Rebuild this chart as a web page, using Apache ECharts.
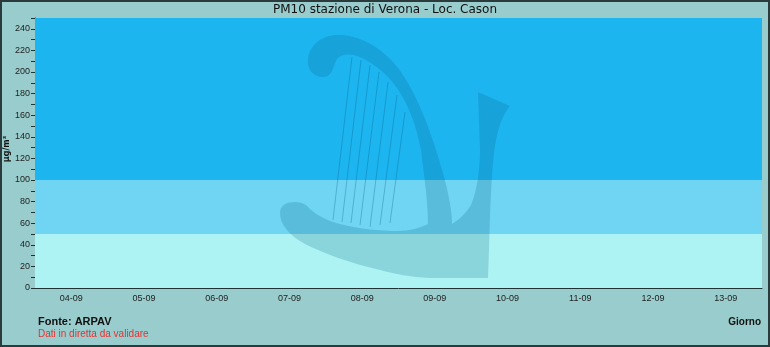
<!DOCTYPE html>
<html>
<head>
<meta charset="utf-8">
<script src="https://cdn.jsdelivr.net/npm/echarts@6/dist/echarts.min.js"></script>
<style>
html,body{margin:0;padding:0;background:#99cccc;}
#c{width:770px;height:347px;}
</style>
</head>
<body>
<div id="c"></div>
<script>
const categories = ['04-09','05-09','06-09','07-09','08-09','09-09','10-09','11-09','12-09','13-09'];
const pm10Values = [null,null,null,null,null,null,null,null,null,null];
const bandLimits = [0, 50, 100, 250];
const bandColors = ['#adf3f3', '#70d5f2', '#1db5f0'];
const yTicks = [0,20,40,60,80,100,120,140,160,180,200,220,240];

const chart = echarts.init(document.getElementById('c'));
const FONT = 'Liberation Sans';

const bands = [];
for (let i = 0; i < bandColors.length; i++) {
  bands.push([{yAxis: bandLimits[i], itemStyle: {color: bandColors[i], opacity: 1}}, {yAxis: bandLimits[i+1]}]);
}

// decorative watermark (logo), pixel-positioned
const harpFill = 'rgba(0,90,130,0.2)';
const harpString = 'rgba(0,90,130,0.3)';
const harpStrings = [
  [352,57,333,220],[361,60,342,222],[370,65,351,223],[379,72,360,225],
  [388,82,370,227],[397,95,380,225],[405,112,390,223]
];
const harpPaths = [
  'M323,77 C313,77 307,69 308,60 C309,45 322,35 338,35 C358,35 380,45 398,68 C415,90 430,127 443,173 C449,195 452,212 452,224 L428,224 C428,205 426,190 421,150 C416,125 410,110 402,96 C392,78 377,65 360,57 C350,53 342,54 338,58 C333,63 334,77 323,77 Z',
  'M280,213 C280,205 287,202 295,202 C302,202 307,205 310,209 C318,216 328,221 340,224 C360,229 380,231 397,231 C410,231 420,228 428,224 L452,224 C460,219 467,212 471,205 C477,190 480,170 480,150 L478,92 L510,106 C502,115 497,130 494,153 C491,180 490,215 489,250 L488,278 L430,278 C410,277 395,274 380,270 C350,263 325,254 305,244 C290,236 280,225 280,213 Z'
];

function renderHarp() {
  const children = harpPaths.map(d => ({type:'path', shape:{pathData:d}, style:{fill:harpFill}}));
  harpStrings.forEach(s => children.push({type:'line', shape:{x1:s[0],y1:s[1],x2:s[2],y2:s[3]}, style:{stroke:harpString, lineWidth:1}}));
  return {type:'group', children:children};
}

chart.setOption({
  backgroundColor:'#99cccc',
  animation:false,
  grid:{left:35, right:8, top:18, bottom:59, containLabel:false, outerBoundsMode:'none'},
  xAxis:{type:'category', data:categories, boundaryGap:true,
    axisLine:{lineStyle:{color:'#1e3333', width:1}},
    axisTick:{inside:true, length:4, lineStyle:{color:'#1e3333'}},
    axisLabel:{fontFamily:FONT, fontSize:9, color:'#222', margin:6},
    splitLine:{show:false}},
  yAxis:{type:'value', min:0, max:250, interval:10,
    axisLine:{show:true, lineStyle:{color:'#1e3333', width:1}},
    axisTick:{show:true, length:4, lineStyle:{color:'#1e3333'}},
    axisLabel:{fontFamily:FONT, fontSize:9, color:'#222', margin:5,
      formatter: v => yTicks.indexOf(v) >= 0 ? String(v) : ''},
    splitLine:{show:false}},
  series:[
    {type:'line', data:pm10Values, symbol:'none', z:1, silent:true,
      markArea:{silent:true, data:bands}},
    {type:'custom', data:[0], z:3, silent:true, renderItem: renderHarp}
  ],
  graphic:[
    {type:'text', x:385, y:10, style:{text:'PM10 stazione di Verona - Loc. Cason', font:'12px "DejaVu Sans"', fill:'#111', textAlign:'center', textVerticalAlign:'middle'}},
    {type:'text', x:7, y:149, rotation:Math.PI/2, style:{text:'µg/m³', font:'bold 8px "DejaVu Sans"', fill:'#111', textAlign:'center', textVerticalAlign:'middle'}},
    {type:'text', left:38, top:316, style:{text:'Fonte: ARPAV', font:'bold 11px "Liberation Sans"', fill:'#111'}},
    {type:'text', left:38, top:329, style:{text:'Dati in diretta da validare', font:'10px "Liberation Sans"', fill:'#e83030'}},
    {type:'text', right:9, top:317, style:{text:'Giorno', font:'bold 10px "Liberation Sans"', fill:'#111'}},
    {type:'rect', z:10, silent:true, shape:{x:1,y:1,width:768,height:345}, style:{fill:'none', stroke:'#2b3b3b', lineWidth:2}}
  ]
});
</script>
</body>
</html>
